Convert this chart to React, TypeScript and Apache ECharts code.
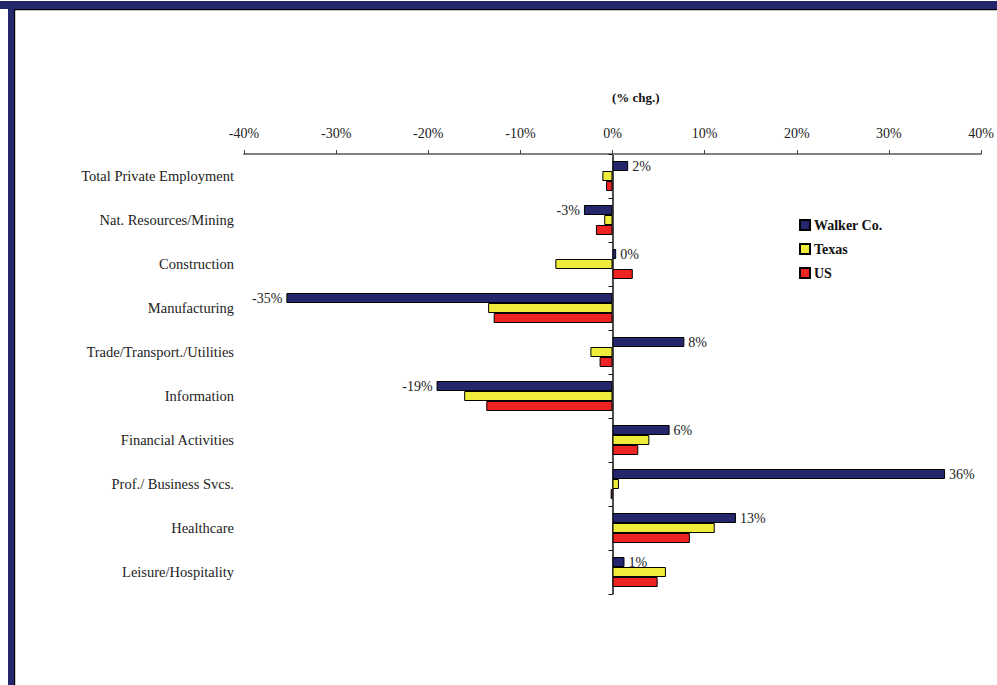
import React, { useEffect, useRef } from "react";
import * as echarts from "echarts";

const categories = [
  "Total Private Employment",
  "Nat. Resources/Mining",
  "Construction",
  "Manufacturing",
  "Trade/Transport./Utilities",
  "Information",
  "Financial Activities",
  "Prof./ Business Svcs.",
  "Healthcare",
  "Leisure/Hospitality",
];
const walker = [1.7, -3.1, 0.4, -35.4, 7.8, -19.1, 6.2, 36.1, 13.4, 1.3];
const texas = [-1.1, -0.9, -6.2, -13.5, -2.4, -16.1, 4.0, 0.7, 11.1, 5.8];
const us = [-0.7, -1.8, 2.2, -12.9, -1.4, -13.7, 2.8, -0.2, 8.4, 4.9];
const seriesNames = ["Walker Co.", "Texas", "US"];
const colors = ["#25276d", "#f0ec3c", "#ee2424"];

const FONT = "Liberation Serif";

export default function App() {
  const ref = useRef<HTMLDivElement>(null);
  useEffect(() => {
    const chart = echarts.init(ref.current!, null, { renderer: "svg" });
    const mk = (name: string, data: number[], color: string, labels: boolean) => ({
      name,
      type: "bar",
      yAxisIndex: 1,
      data,
      barWidth: 10,
      barGap: "0%",
      itemStyle: { color, borderColor: "#000", borderWidth: 1 },
      label: labels
        ? {
            show: true,
            position: "right",
            distance: 4,
            color: "#222",
            fontFamily: FONT,
            fontSize: 14,
            formatter: (p: any) => Math.round(p.value) + "%",
          }
        : { show: false },
    });
    const walkerSeries: any = mk(seriesNames[0], walker, colors[0], true);
    walkerSeries.data = walker.map((v) => ({
      value: v,
      label: { position: v < 0 ? "left" : "right" },
    }));
    chart.setOption({
      animation: false,
      backgroundColor: "#fff",
      textStyle: { fontFamily: FONT },
      grid: { left: 244, right: 16, top: 154, bottom: 91 },
      legend: {
        orient: "vertical",
        left: 799,
        top: 218,
        padding: 0,
        itemWidth: 10,
        itemHeight: 10,
        itemGap: 10,
        icon: "rect",
        data: seriesNames,
        textStyle: { fontFamily: FONT, fontSize: 14, fontWeight: "bold", color: "#111", padding: [0, 0, 0, -1] },
      },
      xAxis: {
        type: "value",
        position: "top",
        min: -40,
        max: 40,
        interval: 10,
        splitLine: { show: false },
        axisLine: { show: true, onZero: false, lineStyle: { color: "#808080", width: 2 } },
        axisTick: { show: true, length: 4, lineStyle: { color: "#444" } },
        axisLabel: { margin: 14, color: "#222", fontSize: 14, fontFamily: FONT, formatter: (v: number) => v + "%" },
      },
      yAxis: [
        {
          type: "category",
          data: categories,
          inverse: true,
          axisLine: { show: false, onZero: false },
          axisTick: { show: false },
          axisLabel: { margin: 10, color: "#222", fontSize: 14.5, fontFamily: FONT },
        },
        {
          type: "category",
          data: categories,
          inverse: true,
          position: "left",
          axisLine: { show: true, onZero: true, lineStyle: { color: "#111", width: 1.5 } },
          axisTick: { show: true, length: 4, inside: false, lineStyle: { color: "#111" } },
          axisLabel: { show: false },
        },
      ],
      series: [walkerSeries, mk(seriesNames[1], texas, colors[1], false), mk(seriesNames[2], us, colors[2], false)],
      graphic: [
        { type: "rect", shape: { x: 0, y: 1, width: 997, height: 8 }, style: { fill: "#25276d" } },
        { type: "rect", shape: { x: 14, y: 9, width: 983, height: 1.2 }, style: { fill: "#000" } },
        { type: "rect", shape: { x: 8, y: 1, width: 6, height: 684 }, style: { fill: "#25276d" } },
        { type: "rect", shape: { x: 14, y: 9, width: 1.2, height: 676 }, style: { fill: "#000" } },
        {
          type: "text",
          left: 612,
          top: 91,
          style: { text: "(% chg.)", fontFamily: FONT, fontSize: 13, fontWeight: "bold", fill: "#111", textAlign: "center" },
        },
      ],
    });
    return () => chart.dispose();
  }, []);
  return <div ref={ref} style={{ position: "fixed", left: 0, top: 0, width: 997, height: 685 }} />;
}
